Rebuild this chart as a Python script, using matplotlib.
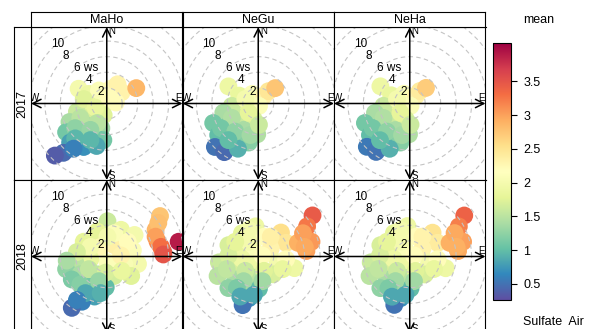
import numpy as np
import matplotlib
matplotlib.use('Agg')
import matplotlib.pyplot as plt
from matplotlib.colors import Normalize

plt.rcParams['font.family'] = ['Liberation Sans', 'DejaVu Sans']

sites = ['MaHo', 'NeGu', 'NeHa']
years = ['2017', '2018']
ring_ws = [2, 4, 6, 8, 10, 12]
cbar_ticks = [0.5, 1, 1.5, 2, 2.5, 3, 3.5]
vmin, vmax = 0.26, 4.07

# wind components (u east, v north, m/s) of each blob and mean sulfate there
u_maho_17 = [-3.64, -2.32, -1.01, 0.53, 1.40, 1.93, 1.18, -0.57, -2.32, -3.86, -1.67, -0.40,
             -4.82, -2.76, -0.70, -5.26, -3.42, -1.32, -0.44, -4.74, -2.98, -1.32, -5.61, -6.71, 3.82,
             -2.98, -1.45, -3.42, -1.23, -4.08, -2.11, -4.08, -2.11, -4.30, 0.31]
v_maho_17 = [1.89, 1.23, 1.67, 1.89, 2.46, 1.45, 0.13, 0.13, -0.18, -1.05, -1.40, -1.49,
             -2.37, -2.72, -3.16, -3.68, -4.04, -4.47, -4.69, -5.00, -5.57, -5.44, -6.32, -6.67, 1.97,
             0.57, -0.53, -1.84, -2.50, -3.16, -3.38, -4.47, -4.69, -5.79, 0.79]
m_maho_17 = [2.0, 1.9, 2.1, 2.2, 2.3, 2.3, 2.2, 2.05, 1.85, 1.6, 1.7, 1.75,
             1.4, 1.45, 1.35, 1.1, 1.15, 1.05, 1.1, 0.8, 0.7, 0.85, 0.45, 0.35, 2.85,
             1.75, 1.85, 1.5, 1.5, 1.25, 1.3, 0.95, 0.95, 0.6, 2.2]

u_negu_17 = [-3.86, -2.46, -0.79, 0.75, 1.32, 2.19, 0.09, -1.67, -3.42, -4.52, -2.54, -0.57,
             -5.83, -4.08, -1.89, -0.13, -5.18, -2.98, -1.23, -5.61, -4.39, -2.63,
             -1.67, -3.42, -1.23, -4.82, -2.98, -1.01, -3.86, 0.09]
v_negu_17 = [2.19, 1.01, 1.23, 1.01, 1.58, 1.97, -0.31, -0.53, -0.31, -1.18, -1.84, -2.06,
             -2.50, -2.94, -3.38, -3.95, -4.04, -4.69, -5.00, -5.57, -6.23, -5.79,
             0.57, -1.84, -1.18, -3.16, -3.60, -4.04, -4.69, -2.72]
m_negu_17 = [1.9, 1.85, 2.1, 2.3, 2.45, 2.75, 2.1, 1.9, 1.6, 1.4, 1.6, 1.7,
             1.1, 1.2, 1.4, 1.45, 1.0, 1.1, 1.2, 0.5, 0.45, 0.9,
             2.0, 1.45, 1.8, 1.1, 1.25, 1.35, 1.0, 1.6]

u_neha_17 = [-3.80, -2.40, -0.75, 0.80, 1.30, 2.10, 0.10, -1.60, -3.40, -4.50, -2.50, -0.50,
             -5.80, -4.00, -1.85, -0.10, -5.15, -2.95, -1.20, -5.55, -4.35, -2.60,
             -1.65, -3.40, -1.20, -4.80, -2.95, -1.00, -3.85, 0.10]
v_neha_17 = [2.20, 1.05, 1.25, 1.00, 1.60, 2.00, -0.30, -0.50, -0.30, -1.20, -1.85, -2.05,
             -2.50, -2.95, -3.40, -3.95, -4.05, -4.70, -5.00, -5.55, -6.20, -5.80,
             0.55, -1.85, -1.20, -3.15, -3.60, -4.05, -4.70, -2.70]
m_neha_17 = [1.9, 1.85, 2.1, 2.3, 2.4, 2.7, 2.1, 1.9, 1.6, 1.4, 1.6, 1.7,
             1.1, 1.2, 1.4, 1.45, 1.0, 1.1, 1.2, 0.55, 0.5, 0.9,
             2.0, 1.45, 1.8, 1.1, 1.25, 1.35, 1.0, 1.6]

u_maho_18 = [0.09, 1.84, 3.60, -1.23, -2.98, 0.96, -0.79, 3.38, 4.04, 2.28, 0.09, -2.11, -4.08,
             -5.26, -3.42, -1.23, 0.96, 3.16, -4.52, -2.11, -0.13, -1.58, -3.20, -4.52,
             6.89, 6.32, 6.58, 7.32, 9.30,
             0.96, 2.72, 0.09, -2.11, 1.84, -3.86, -5.18, -2.32, -0.13, 1.93, -3.42, -1.01,
             -2.76, -0.79, -3.86, 6.67, 6.32, 7.02, 7.32]
v_maho_18 = [4.52, 3.42, 2.76, 3.20, 1.89, 1.45, 1.23, 0.79, -0.96, -0.96, -0.75, -0.31, -0.75,
             -1.62, -2.28, -2.28, -2.50, -2.50, -2.94, -3.82, -3.95, -5.13, -5.79, -6.58,
             5.18, 3.42, 1.89, 0.57, 1.89,
             2.98, 1.89, 2.54, 1.23, 0.13, 0.57, -0.53, -1.62, -2.06, -1.84, -3.60, -3.16,
             -4.69, -4.69, -5.57, 4.30, 2.54, 1.23, 0.26]
m_maho_18 = [1.6, 1.9, 2.0, 1.8, 1.8, 2.35, 2.25, 2.1, 2.0, 2.05, 2.1, 1.85, 1.5,
             1.25, 1.4, 1.55, 1.65, 1.75, 1.15, 1.1, 1.0, 0.8, 0.6, 0.45,
             2.75, 2.85, 3.15, 3.45, 3.9,
             2.1, 2.2, 2.0, 2.0, 2.3, 1.7, 1.4, 1.55, 1.7, 1.85, 1.2, 1.3,
             0.85, 0.9, 0.6, 2.8, 3.0, 3.3, 3.5]

u_negu_18 = [-0.35, -2.11, -3.86, 0.75, 2.94, 3.60, 1.62, -0.57, -2.76, -5.09, -2.76, -0.13, 2.50,
             4.69, -5.26, -2.98, -0.57, 1.93, -3.86, -1.67, 0.09, -1.23, -2.02,
             7.02, 6.32, 5.13, 6.89, 6.23,
             -1.23, 1.62, 0.53, -2.11, -3.86, 3.60, -4.08, -1.67, 0.75, 3.16, -1.89, 0.53,
             -2.76, -0.57, -2.32, 5.79, 6.01, -2.98, -1.23]
v_negu_18 = [3.86, 2.98, 1.45, 2.54, 3.07, 1.75, 1.01, 0.79, 0.57, -0.75, -1.18, -0.96, -0.75,
             -1.49, -2.50, -2.94, -2.72, -2.28, -4.04, -4.12, -4.12, -5.35, -6.23,
             5.26, 3.86, 1.75, 1.89, 0.70,
             1.89, 2.54, 0.13, -0.31, 0.13, -0.35, -1.62, -1.84, -1.84, -1.62, -3.16, -3.16,
             -4.04, -4.91, -5.13, 2.98, 1.23, 1.89, 3.42]
m_negu_18 = [1.9, 1.8, 1.7, 2.2, 2.55, 2.45, 2.3, 2.1, 1.8, 1.6, 1.7, 1.9, 2.0,
             1.9, 1.5, 1.4, 1.5, 1.7, 1.25, 1.05, 1.0, 0.7, 0.5,
             3.45, 3.25, 2.9, 3.05, 3.0,
             2.0, 2.35, 2.2, 1.9, 1.7, 2.2, 1.55, 1.6, 1.75, 1.85, 1.35, 1.35,
             1.15, 0.85, 0.85, 3.0, 2.95, 1.8, 2.0]

u_neha_18 = [-0.30, -2.05, -3.80, 0.80, 2.95, 3.60, 1.65, -0.55, -2.75, -5.05, -2.75, -0.10, 2.50,
             4.65, -5.20, -2.95, -0.55, 1.95, -3.80, -1.65, 0.10, -1.20, -2.00,
             7.05, 6.35, 5.15, 6.90, 6.25,
             -1.20, 1.65, 0.55, -2.10, -3.85, 3.60, -4.05, -1.65, 0.75, 3.15, -1.85, 0.55,
             -2.75, -0.55, -2.30, 5.80, 6.05, -2.95, -1.20]
v_neha_18 = [3.90, 3.00, 1.45, 2.55, 3.05, 1.75, 1.00, 0.80, 0.55, -0.75, -1.20, -0.95, -0.75,
             -1.50, -2.50, -2.95, -2.75, -2.30, -4.05, -4.15, -4.10, -5.35, -6.20,
             5.25, 3.85, 1.75, 1.90, 0.70,
             1.90, 2.55, 0.15, -0.30, 0.15, -0.35, -1.60, -1.85, -1.85, -1.60, -3.15, -3.15,
             -4.05, -4.90, -5.15, 3.00, 1.25, 1.90, 3.40]
m_neha_18 = [1.9, 1.8, 1.7, 2.2, 2.5, 2.4, 2.3, 2.1, 1.8, 1.6, 1.7, 1.9, 2.0,
             1.9, 1.5, 1.4, 1.5, 1.7, 1.25, 1.05, 1.0, 0.7, 0.5,
             3.4, 3.2, 2.9, 3.0, 2.95,
             2.0, 2.3, 2.2, 1.9, 1.7, 2.2, 1.55, 1.6, 1.75, 1.85, 1.35, 1.35,
             1.15, 0.85, 0.85, 2.95, 2.9, 1.8, 2.0]

panels = {
    ('2017', 'MaHo'): (u_maho_17, v_maho_17, m_maho_17),
    ('2017', 'NeGu'): (u_negu_17, v_negu_17, m_negu_17),
    ('2017', 'NeHa'): (u_neha_17, v_neha_17, m_neha_17),
    ('2018', 'MaHo'): (u_maho_18, v_maho_18, m_maho_18),
    ('2018', 'NeGu'): (u_negu_18, v_negu_18, m_negu_18),
    ('2018', 'NeHa'): (u_neha_18, v_neha_18, m_neha_18),
}

W, H = 594, 329
fig = plt.figure(figsize=(W / 100, H / 100), dpi=100)
cmap = plt.get_cmap('Spectral_r')
norm = Normalize(vmin, vmax)
upper = 9.8


def rect(x0, y0, w, h):
    return [x0 / W, 1 - (y0 + h) / H, w / W, h / H]


col_x = [31, 182.5, 334]
row_y = [27, 180]
pw, ph = 151.5, 153

for r, yr in enumerate(years):
    for c, site in enumerate(sites):
        ax = fig.add_axes(rect(col_x[c], row_y[r], pw, ph))
        u, v, m = panels[(yr, site)]
        ax.scatter(u, v, c=m, cmap=cmap, norm=norm, s=165, linewidths=0, zorder=1)
        t = np.linspace(0, 2 * np.pi, 200)
        for ws in ring_ws:
            ax.plot(ws * np.cos(t), ws * np.sin(t), color='#c4c4c4', lw=0.8,
                    dashes=(4, 3), zorder=2)
        for i, ws in enumerate(ring_ws[:5]):
            lab = f'{ws} ws' if ws == 6 else f'{ws}'
            d = 1.07 * ws * np.sqrt(0.5)
            ax.text(-d + 0.35, d, lab, fontsize=8.5, ha='left', va='center', zorder=3)
        for xy, xyt in [((upper, 0), (-upper, 0)), ((0, upper), (0, -upper))]:
            ax.annotate('', xy=xy, xytext=xyt, zorder=4,
                        arrowprops=dict(arrowstyle='<->,head_length=0.6,head_width=0.3',
                                        lw=1.1, color='black', shrinkA=0, shrinkB=0,
                                        mutation_scale=10))
        k = 0.07 * upper
        ax.text(-0.95 * upper, k, 'W', fontsize=7, ha='center', va='center')
        ax.text(0.95 * upper, k, 'E', fontsize=7, ha='center', va='center')
        ax.text(k, 0.95 * upper, 'N', fontsize=7, ha='center', va='center')
        ax.text(k, -0.95 * upper, 'S', fontsize=7, ha='center', va='center')
        ax.set_xlim(-upper, upper)
        ax.set_ylim(-upper, upper)
        ax.set_xticks([])
        ax.set_yticks([])
        for sp in ax.spines.values():
            sp.set_linewidth(0.8)

# strips
for c, site in enumerate(sites):
    sa = fig.add_axes(rect(col_x[c], 12, pw, 15))
    sa.set_xticks([])
    sa.set_yticks([])
    sa.text(0.5, 0.45, site, fontsize=9, ha='center', va='center', transform=sa.transAxes)
    for sp in sa.spines.values():
        sp.set_linewidth(0.8)
for r, yr in enumerate(years):
    sa = fig.add_axes(rect(14, row_y[r], 17, ph))
    sa.set_xticks([])
    sa.set_yticks([])
    sa.text(0.5, 0.5, yr, fontsize=9, ha='center', va='center', rotation=90,
            transform=sa.transAxes)
    for sp in sa.spines.values():
        sp.set_linewidth(0.8)

# colour key
cax = fig.add_axes(rect(493, 43, 18, 257))
sm = plt.cm.ScalarMappable(norm=norm, cmap=cmap)
cb = fig.colorbar(sm, cax=cax, ticks=cbar_ticks)
cb.ax.set_yticklabels(['0.5', '1', '1.5', '2', '2.5', '3', '3.5'])
cb.ax.tick_params(labelsize=9, length=4, width=0.8, pad=5)
cb.outline.set_linewidth(0.8)
fig.text(523 / W, 1 - 20 / H, 'mean', fontsize=9, ha='left', va='center')
fig.text(523 / W, 1 - 322 / H, 'Sulfate  Air', fontsize=9, ha='left', va='center')

fig.savefig('out.png', dpi=100)
